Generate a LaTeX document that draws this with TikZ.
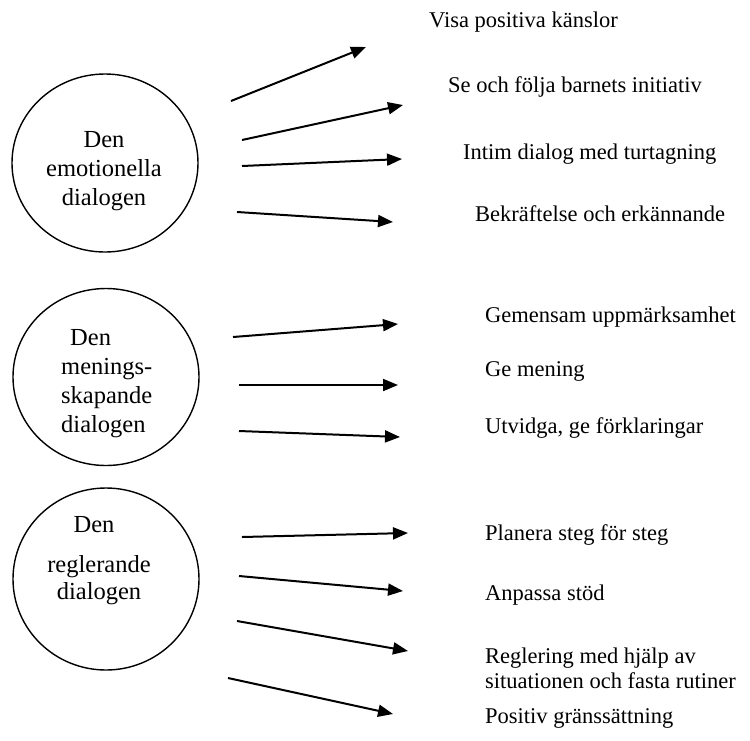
\documentclass[tikz,border=0pt]{standalone}
\usepackage{fontspec}
\setmainfont{Liberation Serif}
\usetikzlibrary{arrows.meta,shapes.geometric}
\begin{document}
\begin{tikzpicture}[x=1pt,y=-1pt,
  dlg/.style={draw, line width=1.4pt, ellipse, minimum width=186pt, minimum height=178pt, inner sep=0pt},
  ctext/.style={font=\fontsize{24.5}{29}\selectfont, inner sep=0pt, anchor=north},
  item/.style={font=\fontsize{22.5}{25}\selectfont, inner sep=0pt, anchor=base west, align=left},
  arr/.style={line width=2pt, -{Triangle[length=15pt,width=12pt]}}]
\useasboundingbox (0,0) rectangle (750,740);

% circles
\node[dlg] (c1) at (105,163) {};
\node[dlg, minimum height=177pt] (c2) at (106,377) {};
\node[dlg, minimum height=182pt] (c3) at (106,579) {};

% circle texts
\node[ctext, align=center] (t1) at (104,131) {Den\\emotionella\\dialogen};
\node[ctext, align=left, anchor=north west] (t2) at (61,329) {\hspace*{9pt}Den\\menings-\\skapande\\dialogen};
\node[ctext, align=center, font=\fontsize{24.5}{27}\selectfont] (t3) at (99,516) {\hspace*{-10pt}Den\\[13pt]reglerande\\dialogen};

% item texts
\node[item] (e1) at (429,27) {Visa positiva känslor};
\node[item] (e2) at (448,92) {Se och följa barnets initiativ};
\node[item] (e3) at (463,159) {Intim dialog med turtagning};
\node[item] (e4) at (475,221) {Bekräftelse och erkännande};
\node[item] (m1) at (485,322) {Gemensam uppmärksamhet};
\node[item] (m2) at (485,376) {Ge mening};
\node[item] (m3) at (485,433) {Utvidga, ge förklaringar};
\node[item] (r1) at (485,540) {Planera steg för steg};
\node[item] (r2) at (485,600) {Anpassa stöd};
\node[item] (r3) at (485,688) {Reglering med hjälp av\\situationen och fasta rutiner};
\node[item] (r4) at (485,723) {Positiv gränssättning};

% arrow end points
\coordinate (a1s) at (231,101); \coordinate (a1e) at (366,47);
\coordinate (a2s) at (242,140); \coordinate (a2e) at (403,105);
\coordinate (a3s) at (242,166); \coordinate (a3e) at (402,159);
\coordinate (a4s) at (237,212); \coordinate (a4e) at (393,222);
\coordinate (b1s) at (233,337); \coordinate (b1e) at (398,324);
\coordinate (b2s) at (239,385); \coordinate (b2e) at (398,385);
\coordinate (b3s) at (239,431); \coordinate (b3e) at (400,437);
\coordinate (d1s) at (242,537); \coordinate (d1e) at (408,533);
\coordinate (d2s) at (239,576); \coordinate (d2e) at (403,591);
\coordinate (d3s) at (237,621); \coordinate (d3e) at (408,651);
\coordinate (d4s) at (228,678); \coordinate (d4e) at (393,714);

\foreach \a in {a1,a2,a3,a4,b1,b2,b3,d1,d2,d3,d4}
  \draw[arr] (\a s) -- (\a e);
\end{tikzpicture}
\end{document}
